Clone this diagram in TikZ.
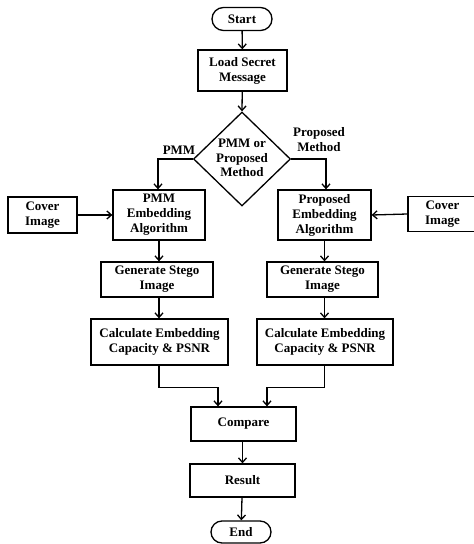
\documentclass[tikz,border=0pt]{standalone}
\usepackage{fontspec}
\setmainfont{Liberation Serif}
\usetikzlibrary{shapes.geometric,shapes.misc,arrows.meta,calc}
\begin{document}
\begin{tikzpicture}[x=1pt,y=-1pt,
  every node/.style={font=\fontsize{13}{15}\selectfont\bfseries, align=center, inner sep=0pt},
  box/.style={draw, line width=1.3pt, rectangle},
  term/.style={draw, line width=1.3pt, rounded rectangle},
  conn/.style={line width=1.3pt, -{Straight Barb[length=4.5pt,width=8pt]}},
  plain/.style={line width=1.3pt}]
\useasboundingbox (0,0) rectangle (474,544);
\clip (0,0) rectangle (474,544);
\node[term, minimum width=60pt, minimum height=23pt] (start) at (242,19) {Start};
\node[box, minimum width=89pt, minimum height=41pt] (load) at (242.5,70.5) {Load Secret\\Message};
\node[draw, line width=1.3pt, diamond, minimum width=97pt, minimum height=94pt] (dec) at (242,159) {};
\node (dect) at (242,158) {PMM or\\[-0.5pt]Proposed\\[-0.5pt]Method};
\node[box, minimum width=92pt, minimum height=50pt] (pmm) at (159,215) {PMM\\Embedding\\Algorithm};
\node[box, minimum width=93pt, minimum height=50pt] (prop) at (324.5,215) {Proposed\\Embedding\\Algorithm};
\node[box, minimum width=69pt, minimum height=36pt] (covl) at (42.5,215) {Cover\\Image};
\node[box, minimum width=69pt, minimum height=35pt] (covr) at (442.5,214) {Cover\\Image};
\node[box, minimum width=112pt, minimum height=35pt] (genl) at (157,279.5) {Generate Stego\\Image};
\node[box, minimum width=111pt, minimum height=35pt] (genr) at (322.5,279.5) {Generate Stego\\Image};
\node[box, minimum width=137pt, minimum height=46pt] (calcl) at (159.5,342) {Calculate Embedding\\Capacity \& PSNR};
\node[box, minimum width=136pt, minimum height=46pt] (calcr) at (325,342) {Calculate Embedding\\Capacity \& PSNR};
\node[box, minimum width=105pt, minimum height=34pt] (cmp) at (243.5,424) {Compare};
\node[box, minimum width=105pt, minimum height=33pt] (res) at (242.5,480.5) {Result};
\node[term, minimum width=60pt, minimum height=22pt] (end) at (241,532) {End};
\node (lpmm) at (179,150) {PMM};
\node (lprop) at (319,140) {Proposed\\Method};
\coordinate (cl) at ($(cmp.north)+(-25.5,0)$);
\coordinate (cr) at ($(cmp.north)+(23.5,0)$);
\coordinate (pl) at (158,0);
\coordinate (pr) at (326,0);
\draw[conn] (start) -- (load);
\draw[conn] (load) -- (dec.north);
\draw[conn] (dec.west) -| (pl |- pmm.north);
\draw[conn] (dec.east) -| (pr |- prop.north);
\draw[conn] (covl) -- (pmm);
\draw[conn] (covr.west) -- (prop.east);
\draw[conn] (pmm.south) -- (pmm.south |- genl.north);
\draw[conn] (prop.south) -- (prop.south |- genr.north);
\draw[conn] (pmm.south |- genl.south) -- (pmm.south |- calcl.north);
\draw[conn] (prop.south |- genr.south) -- (prop.south |- calcr.north);
\draw[conn] (pmm.south |- calcl.south) -- ++(0,22) -| (cl);
\draw[conn] (prop.south |- calcr.south) -- ++(0,22) -| (cr);
\draw[conn] (cmp.south -| res.north) -- (res.north);
\draw[conn] (res) -- (end);
\end{tikzpicture}
\end{document}
